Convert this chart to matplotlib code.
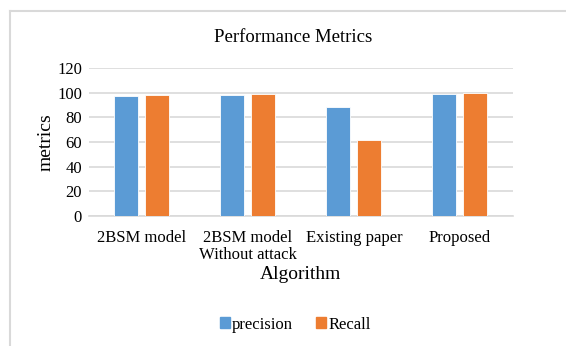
import matplotlib.pyplot as plt
import numpy as np
from matplotlib.lines import Line2D
from matplotlib.patches import Patch

plt.rcParams['font.family'] = ['Liberation Serif', 'DejaVu Serif']

algorithms = ['2BSM model', '2BSM model\nWithout attack', 'Existing paper', 'Proposed']
precision = [97.7, 98.5, 88.5, 99.4]
recall = [98.3, 98.8, 61.4, 99.5]

blue = '#5b9bd5'
orange = '#ed7d31'

fig = plt.figure(figsize=(5.66, 3.46), dpi=100)
ax = fig.add_axes([0.157, 0.3766, 0.749, 0.426])

x = np.arange(len(algorithms))
w = 0.226
off = 0.146
ax.bar(x - off, precision, w, color=blue, edgecolor='white', linewidth=0.6, zorder=3)
ax.bar(x + off, recall, w, color=orange, edgecolor='white', linewidth=0.6, zorder=3)

ax.set_xlim(-0.5, 3.5)
ax.set_ylim(0, 120)
ax.set_yticks(range(0, 121, 20))
ax.yaxis.grid(True, color='#d9d9d9', linewidth=1.2, zorder=0)
ax.set_axisbelow(True)
for s in ['top', 'right', 'left']:
    ax.spines[s].set_visible(False)
ax.spines['bottom'].set_color('#d9d9d9')
ax.spines['bottom'].set_linewidth(1.2)
ax.tick_params(axis='both', length=0, labelsize=12, colors='black')
ax.tick_params(axis='y', pad=5)
ax.tick_params(axis='x', pad=10)
ax.set_xticks(x)
ax.set_xticklabels(algorithms, linespacing=1.1)

ax.set_ylabel('metrics', fontsize=14, labelpad=2)
ax.set_xlabel('Algorithm', fontsize=14, labelpad=2)
fig.text(0.518, 0.893, 'Performance Metrics', ha='center', va='center', fontsize=13.5)

handles = [Patch(color=blue, label='precision'), Patch(color=orange, label='Recall')]
fig.legend(handles=handles, loc='center', bbox_to_anchor=(0.522, 0.062), ncol=2,
           frameon=False, fontsize=12, handlelength=0.6, handleheight=0.6,
           handletextpad=0.15, columnspacing=1.4)

# chart border (top and left edges)
fig.add_artist(Line2D([0.018, 1.0], [0.967, 0.967], color='#d9d9d9', linewidth=1.5,
                      transform=fig.transFigure))
fig.add_artist(Line2D([0.018, 0.018], [0.0, 0.967], color='#d9d9d9', linewidth=1.5,
                      transform=fig.transFigure))

fig.savefig('out.png', dpi=100)
